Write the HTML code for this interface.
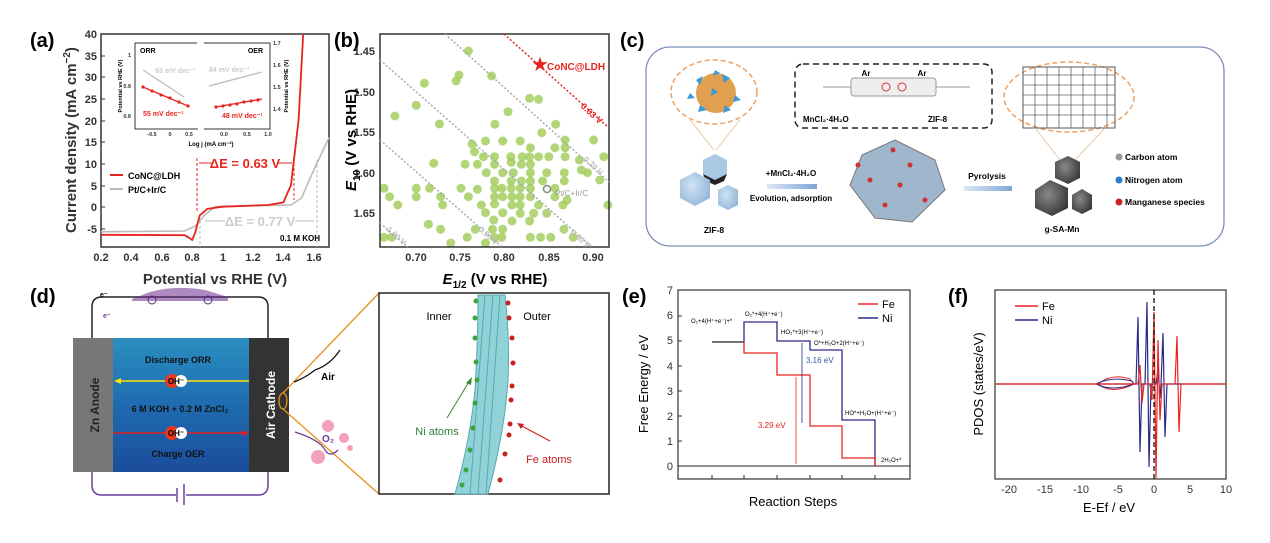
<!DOCTYPE html>
<html><head><meta charset="utf-8"><style>
html,body{margin:0;padding:0;background:#fff;}
svg{display:block;font-family:"Liberation Sans",Arial,sans-serif;}
.b{font-weight:bold;}
</style></head><body>
<svg width="1270" height="543" viewBox="0 0 1270 543" xmlns="http://www.w3.org/2000/svg">
<defs>
<linearGradient id="wat" x1="0" y1="0" x2="0" y2="1"><stop offset="0" stop-color="#2a8fc0"/><stop offset="0.5" stop-color="#1f6bb0"/><stop offset="1" stop-color="#1a4d9c"/></linearGradient>
<linearGradient id="arr" x1="0" y1="0" x2="1" y2="0"><stop offset="0" stop-color="#dde8f5"/><stop offset="1" stop-color="#7fa6d8"/></linearGradient>
<radialGradient id="cry" cx="0.4" cy="0.4" r="0.7"><stop offset="0" stop-color="#cfe3f5"/><stop offset="1" stop-color="#8fb4d6"/></radialGradient>
<radialGradient id="dk" cx="0.4" cy="0.4" r="0.7"><stop offset="0" stop-color="#888"/><stop offset="1" stop-color="#333"/></radialGradient>
</defs>

<!-- ===== (a) ===== -->
<text x="30" y="47" font-size="20" class="b">(a)</text>
<rect x="101" y="34" width="228" height="213" fill="none" stroke="#333" stroke-width="1.5"/>
<g font-size="11" class="b" text-anchor="end" fill="#333">
<text x="97" y="38">40</text><text x="97" y="60">35</text><text x="97" y="81">30</text><text x="97" y="103">25</text><text x="97" y="125">20</text><text x="97" y="146">15</text><text x="97" y="168">10</text><text x="97" y="190">5</text><text x="97" y="211">0</text><text x="97" y="233">-5</text>
</g>
<g stroke="#333" stroke-width="1"><line x1="101" y1="34" x2="105" y2="34"/><line x1="101" y1="56" x2="105" y2="56"/><line x1="101" y1="77" x2="105" y2="77"/><line x1="101" y1="99" x2="105" y2="99"/><line x1="101" y1="121" x2="105" y2="121"/><line x1="101" y1="142" x2="105" y2="142"/><line x1="101" y1="164" x2="105" y2="164"/><line x1="101" y1="186" x2="105" y2="186"/><line x1="101" y1="207" x2="105" y2="207"/><line x1="101" y1="229" x2="105" y2="229"/></g>
<g font-size="11" class="b" text-anchor="middle" fill="#333">
<text x="101" y="261">0.2</text><text x="131" y="261">0.4</text><text x="162" y="261">0.6</text><text x="192" y="261">0.8</text><text x="223" y="261">1</text><text x="253" y="261">1.2</text><text x="283" y="261">1.4</text><text x="314" y="261">1.6</text>
</g>
<text x="215" y="284" font-size="15" class="b" text-anchor="middle" fill="#333">Potential vs RHE (V)</text>
<text transform="translate(76,140) rotate(-90)" font-size="15" class="b" text-anchor="middle" fill="#333">Current density (mA cm<tspan dy="-6" font-size="10">−2</tspan><tspan dy="6">)</tspan></text>
<path d="M101,231.8 L184.6,231 L195.2,226.1 L204.4,215.3 L215,206.7 L253,205.8 L291,205 L301.6,198 L310.8,176.5 L316.8,163.5 L329,137.6" fill="none" stroke="#bbb" stroke-width="1.6"/>
<path d="M101,234.8 L184.6,235.2 L189.2,237.8 L192.2,240 L195.2,232.6 L199.8,215.3 L207.4,208.9 L222.6,206.7 L268,205 L283.4,202.4 L291,185 L298.6,120 L303.2,34" fill="none" stroke="#e8241f" stroke-width="1.8"/>
<line x1="197" y1="158" x2="197" y2="212" stroke="#e8241f" stroke-dasharray="3,2"/>
<line x1="294" y1="158" x2="294" y2="200" stroke="#e8241f" stroke-dasharray="3,2"/>
<line x1="199" y1="163" x2="212" y2="163" stroke="#e8241f"/><line x1="278" y1="163" x2="292" y2="163" stroke="#e8241f"/>
<text x="245" y="168" font-size="13" class="b" fill="#e8241f" text-anchor="middle">ΔE = 0.63 V</text>
<line x1="317" y1="160" x2="317" y2="247" stroke="#bbb" stroke-dasharray="3,2"/>
<line x1="200" y1="221" x2="200" y2="247" stroke="#bbb" stroke-dasharray="3,2"/>
<line x1="205" y1="221" x2="225" y2="221" stroke="#bbb"/><line x1="295" y1="221" x2="314" y2="221" stroke="#bbb"/>
<text x="260" y="226" font-size="13" class="b" fill="#ccc" text-anchor="middle">ΔE = 0.77 V</text>
<line x1="110" y1="175" x2="123" y2="175" stroke="#e8241f" stroke-width="2"/><text x="128" y="179" font-size="9" class="b">CoNC@LDH</text>
<line x1="110" y1="189" x2="123" y2="189" stroke="#bbb" stroke-width="2"/><text x="128" y="193" font-size="9" class="b">Pt/C+Ir/C</text>
<text x="320" y="241" font-size="8" class="b" text-anchor="end">0.1 M KOH</text>
<g stroke="#333" stroke-width="1" fill="none">
<path d="M135,43 L135,129 L198,129 M135,43 L197,43"/>
<path d="M204,43 L270,43 L270,129 L204,129"/>
</g>
<text x="140" y="53" font-size="7" class="b">ORR</text><text x="263" y="53" font-size="7" class="b" text-anchor="end">OER</text>
<g font-size="5.5" class="b" fill="#333"><text x="131" y="57" text-anchor="end">1</text><text x="131" y="88" text-anchor="end">0.9</text><text x="131" y="118" text-anchor="end">0.8</text>
<text x="273" y="45">1.7</text><text x="273" y="67">1.6</text><text x="273" y="89">1.5</text><text x="273" y="111">1.4</text>
<text x="152" y="136" text-anchor="middle">-0.5</text><text x="170" y="136" text-anchor="middle">0</text><text x="189" y="136" text-anchor="middle">0.5</text>
<text x="224" y="136" text-anchor="middle">0.0</text><text x="247" y="136" text-anchor="middle">0.5</text><text x="268" y="136" text-anchor="middle">1.0</text></g>
<text x="211" y="146" font-size="6" class="b" text-anchor="middle">Log j (mA cm⁻²)</text>
<text transform="translate(122,86) rotate(-90)" font-size="5.5" class="b" text-anchor="middle">Potential vs RHE (V)</text>
<text transform="translate(288,86) rotate(-90)" font-size="5.5" class="b" text-anchor="middle">Potential vs RHE (V)</text>
<line x1="143" y1="70" x2="184" y2="97" stroke="#bbb" stroke-width="1.3"/>
<line x1="143" y1="87" x2="188" y2="106" stroke="#e8241f" stroke-width="1.3"/>
<line x1="209" y1="86" x2="262" y2="72" stroke="#bbb" stroke-width="1.3"/>
<line x1="216" y1="107" x2="262" y2="99" stroke="#e8241f" stroke-width="1.3"/>
<g fill="#e8241f"><circle cx="143" cy="87" r="1.6"/><circle cx="152" cy="91" r="1.6"/><circle cx="161" cy="95" r="1.6"/><circle cx="170" cy="98" r="1.6"/><circle cx="179" cy="102" r="1.6"/><circle cx="188" cy="106" r="1.6"/>
<circle cx="216" cy="107" r="1.6"/><circle cx="223" cy="106" r="1.6"/><circle cx="230" cy="105" r="1.6"/><circle cx="237" cy="104" r="1.6"/><circle cx="244" cy="102" r="1.6"/><circle cx="251" cy="101" r="1.6"/><circle cx="258" cy="100" r="1.6"/></g>
<text x="155" y="73" font-size="7" class="b" fill="#ccc">93 mV dec⁻¹</text>
<text x="143" y="116" font-size="7" class="b" fill="#e8241f">55 mV dec⁻¹</text>
<text x="209" y="72" font-size="7" class="b" fill="#ccc">84 mV dec⁻¹</text>
<text x="222" y="118" font-size="7" class="b" fill="#e8241f">48 mV dec⁻¹</text>

<!-- ===== (b) ===== -->
<text x="334" y="47" font-size="20" class="b">(b)</text>
<g fill="#9fcc55" fill-opacity="0.8" id="dots"></g>
<rect x="380" y="34" width="229" height="213" fill="none" stroke="#333" stroke-width="1.5"/>
<g stroke="#aaa" stroke-width="1.5" stroke-dasharray="2,2" fill="none">
<line x1="445" y1="34" x2="609" y2="182"/>
<line x1="380" y1="60" x2="592" y2="247"/>
<line x1="380" y1="140" x2="502" y2="247"/>
<line x1="380" y1="223" x2="408" y2="247"/>
</g>
<line x1="504" y1="34" x2="609" y2="128" stroke="#e8241f" stroke-width="1.5" stroke-dasharray="2,2"/>
<g font-size="11" class="b" text-anchor="end" fill="#333"><text x="375" y="55">1.45</text><text x="375" y="96">1.50</text><text x="375" y="136">1.55</text><text x="375" y="177">1.60</text><text x="375" y="217">1.65</text></g>
<g font-size="11" class="b" text-anchor="middle" fill="#333"><text x="416" y="261">0.70</text><text x="460" y="261">0.75</text><text x="504" y="261">0.80</text><text x="549" y="261">0.85</text><text x="593" y="261">0.90</text></g>
<text x="495" y="284" font-size="15" class="b" text-anchor="middle"><tspan font-style="italic">E</tspan><tspan font-size="10" dy="4">1/2</tspan><tspan dy="-4"> (V vs RHE)</tspan></text>
<text transform="translate(356,140) rotate(-90)" font-size="15" class="b" text-anchor="middle"><tspan font-style="italic">E</tspan><tspan font-size="10" dy="4">10</tspan><tspan dy="-4"> (V vs RHE)</tspan></text>
<text x="540" y="71" font-size="20" fill="#e8241f" text-anchor="middle">★</text>
<text x="547" y="70" font-size="10" class="b" fill="#e8241f">CoNC@LDH</text>
<text transform="translate(580,107) rotate(42)" font-size="9" class="b" fill="#e8241f">0.63 V</text>
<circle cx="547" cy="189" r="3.5" fill="none" stroke="#888" stroke-width="1.5"/>
<text x="555" y="196" font-size="8" fill="#999">Pt/C+Ir/C</text>
<g font-size="8" fill="#bbb" class="b"><text transform="translate(583,160) rotate(42)">0.70 V</text><text transform="translate(570,233) rotate(42)">0.80 V</text><text transform="translate(478,230) rotate(42)">0.90 V</text><text transform="translate(386,230) rotate(42)">1.00 V</text></g>

<!-- ===== (c) ===== -->
<text x="620" y="47" font-size="20" class="b">(c)</text>
<rect x="646" y="47" width="578" height="199" rx="24" fill="none" stroke="#7d8fb8" stroke-width="1.3"/>
<ellipse cx="714" cy="92" rx="43" ry="32" fill="none" stroke="#f0a060" stroke-width="1.5" stroke-dasharray="5,3"/>
<circle cx="716" cy="93" r="20" fill="#e0a050"/>
<g fill="#3a9ad8"><polygon points="696,80 703,76 700,85"/><polygon points="722,74 730,78 724,83"/><polygon points="735,95 741,100 733,102"/><polygon points="700,105 707,110 698,112"/><polygon points="712,88 718,92 711,96"/><polygon points="725,105 731,110 723,113"/><polygon points="690,93 695,98 687,99"/><polygon points="715,70 720,73 713,76"/></g>
<line x1="690" y1="120" x2="714" y2="150" stroke="#e6c8a8"/><line x1="740" y1="120" x2="716" y2="150" stroke="#e6c8a8"/>
<polygon points="703,160 715,154 727,160 727,174 715,180 703,174" fill="#a9c8e4"/>
<polygon points="703,174 715,180 727,174 724,181 715,185 706,181" fill="#222"/>
<polygon points="680,180 695,172 710,180 710,198 695,206 680,198" fill="url(#cry)"/>
<polygon points="718,190 728,185 738,190 738,205 728,210 718,205" fill="url(#cry)"/>
<text x="714" y="233" font-size="8.5" class="b" text-anchor="middle">ZIF-8</text>
<rect x="795" y="64" width="197" height="64" rx="8" fill="none" stroke="#222" stroke-width="1.5" stroke-dasharray="6,4"/>
<line x1="823" y1="87" x2="970" y2="87" stroke="#999"/>
<rect x="851" y="78" width="85" height="18" rx="3" fill="#eee" stroke="#999"/>
<circle cx="886" cy="87" r="4" fill="none" stroke="#d33"/><circle cx="902" cy="87" r="4" fill="none" stroke="#d33"/>
<text x="866" y="76" font-size="8" class="b" text-anchor="middle">Ar</text><text x="922" y="76" font-size="8" class="b" text-anchor="middle">Ar</text>
<text x="803" y="122" font-size="8" class="b">MnCl₂·4H₂O</text><text x="928" y="122" font-size="8" class="b">ZIF-8</text>
<text x="791" y="176" font-size="8" class="b" text-anchor="middle">+MnCl₂·4H₂O</text>
<rect x="767" y="184" width="50" height="5" fill="url(#arr)"/>
<text x="791" y="201" font-size="8" class="b" text-anchor="middle">Evolution, adsorption</text>
<polygon points="895,140 935,160 945,190 912,222 875,218 850,185 862,155" fill="#9fb6cc" stroke="#777"/>
<g fill="#c33"><circle cx="893" cy="150" r="2.5"/><circle cx="910" cy="165" r="2.5"/><circle cx="870" cy="180" r="2.5"/><circle cx="925" cy="200" r="2.5"/><circle cx="885" cy="205" r="2.5"/><circle cx="900" cy="185" r="2.5"/><circle cx="858" cy="165" r="2.5"/></g>
<text x="987" y="179" font-size="8.5" class="b" text-anchor="middle">Pyrolysis</text>
<rect x="964" y="186" width="48" height="5" fill="url(#arr)"/>
<ellipse cx="1069" cy="97" rx="65" ry="35" fill="none" stroke="#f0a060" stroke-width="1.5" stroke-dasharray="5,3"/>
<rect x="1023" y="67" width="92" height="61" fill="none" stroke="#555" stroke-width="1"/>
<g stroke="#666" stroke-width="0.8"><line x1="1023" y1="75" x2="1115" y2="75"/><line x1="1023" y1="85" x2="1115" y2="85"/><line x1="1023" y1="95" x2="1115" y2="95"/><line x1="1023" y1="105" x2="1115" y2="105"/><line x1="1023" y1="115" x2="1115" y2="115"/><line x1="1035" y1="67" x2="1035" y2="128"/><line x1="1047" y1="67" x2="1047" y2="128"/><line x1="1059" y1="67" x2="1059" y2="128"/><line x1="1071" y1="67" x2="1071" y2="128"/><line x1="1083" y1="67" x2="1083" y2="128"/><line x1="1095" y1="67" x2="1095" y2="128"/><line x1="1107" y1="67" x2="1107" y2="128"/></g>
<line x1="1035" y1="128" x2="1060" y2="160" stroke="#e6c8a8"/><line x1="1105" y1="128" x2="1075" y2="160" stroke="#e6c8a8"/>
<polygon points="1055,162 1068,156 1080,162 1080,178 1068,184 1055,178" fill="url(#dk)"/>
<polygon points="1035,190 1050,180 1068,188 1068,208 1052,216 1035,208" fill="url(#dk)"/>
<polygon points="1072,195 1082,189 1092,195 1092,209 1082,214 1072,209" fill="url(#dk)"/>
<text x="1062" y="232" font-size="8.5" class="b" text-anchor="middle">g-SA-Mn</text>
<circle cx="1119" cy="157" r="3.5" fill="#999"/><text x="1125" y="160" font-size="8.5" class="b">Carbon atom</text>
<circle cx="1119" cy="180" r="3.5" fill="#2b7cc8"/><text x="1125" y="183" font-size="8.5" class="b">Nitrogen atom</text>
<circle cx="1119" cy="202" r="3.5" fill="#c22"/><text x="1125" y="205" font-size="8.5" class="b">Manganese species</text>

<!-- ===== (d) ===== -->
<text x="30" y="303" font-size="20" class="b">(d)</text>
<path d="M92,338 L92,307 Q92,297 102,297 L258,297 Q268,297 268,307 L268,338" fill="none" stroke="#222" stroke-width="1.5"/>
<path d="M92,472 L92,485 Q92,495 102,495 L258,495 Q268,495 268,485 L268,472" fill="none" stroke="#6b3fa0" stroke-width="1.5"/>
<rect x="176" y="486" width="10" height="18" fill="#fff"/>
<line x1="177" y1="488" x2="177" y2="502" stroke="#6b3fa0" stroke-width="1.5"/><line x1="184" y1="484" x2="184" y2="505" stroke="#6b3fa0" stroke-width="1.5"/>
<path d="M132,299 L150,292 Q175,285 205,290 L228,297 L228,301 L132,301 Z" fill="#6a2a8a" opacity="0.55"/>
<circle cx="152" cy="300" r="4" fill="none" stroke="#5a2a7a"/><circle cx="208" cy="300" r="4" fill="none" stroke="#5a2a7a"/>
<text x="100" y="297" font-size="7" class="b">e⁻</text><text x="103" y="318" font-size="7" class="b" fill="#7a3aa0">e⁻</text>
<rect x="73" y="338" width="40" height="134" fill="#777"/>
<rect x="113" y="338" width="136" height="134" fill="url(#wat)"/>
<rect x="249" y="338" width="40" height="134" fill="#333"/>
<text transform="translate(99,405) rotate(-90)" font-size="12" class="b" fill="#222" text-anchor="middle">Zn Anode</text>
<text transform="translate(275,405) rotate(-90)" font-size="12" class="b" fill="#fff" text-anchor="middle">Air Cathode</text>
<text x="178" y="363" font-size="9" class="b" fill="#111" text-anchor="middle">Discharge   ORR</text>
<line x1="118" y1="381" x2="249" y2="381" stroke="#ffe400" stroke-width="1.5"/><polygon points="114,381 121,378 121,384" fill="#ffe400"/>
<text x="180" y="412" font-size="9" class="b" fill="#111" text-anchor="middle">6 M KOH + 0.2 M ZnCl₂</text>
<line x1="113" y1="433" x2="244" y2="433" stroke="#e02020" stroke-width="1.5"/><polygon points="249,433 242,430 242,436" fill="#e02020"/>
<text x="178" y="457" font-size="9" class="b" fill="#111" text-anchor="middle">Charge   OER</text>
<circle cx="172" cy="381" r="7" fill="#e83a1e"/><circle cx="181" cy="381" r="6" fill="#fff"/><text x="176" y="384" font-size="8" class="b" text-anchor="middle">OH⁻</text>
<circle cx="172" cy="433" r="7" fill="#e83a1e"/><circle cx="181" cy="433" r="6" fill="#fff"/><text x="176" y="436" font-size="8" class="b" text-anchor="middle">OH⁻</text>
<ellipse cx="283" cy="401" rx="4" ry="8" fill="none" stroke="#e8901a" stroke-width="1.3"/>
<line x1="283" y1="393" x2="379" y2="293" stroke="#e8901a" stroke-width="1.3"/><line x1="283" y1="409" x2="379" y2="494" stroke="#e8901a" stroke-width="1.3"/>
<path d="M340,350 Q330,365 315,370 Q305,378 294,382" fill="none" stroke="#111" stroke-width="1.2"/>
<text x="321" y="380" font-size="10" class="b">Air</text>
<path d="M295,432 Q320,440 325,450 Q330,458 338,450" fill="none" stroke="#6b3fa0" stroke-width="1.3"/>
<text x="322" y="442" font-size="10" class="b" fill="#6b3fa0">O₂</text>
<g fill="#f08aa8" opacity="0.8"><circle cx="328" cy="426" r="6"/><circle cx="344" cy="438" r="5"/><circle cx="318" cy="457" r="7"/><circle cx="350" cy="448" r="3"/></g>
<rect x="379" y="293" width="230" height="201" fill="#fff" stroke="#222" stroke-width="1.5"/>
<path d="M478,295 L505,295 Q510,340 508,380 Q505,430 488,494 L455,494 Q470,440 475,390 Q478,340 478,295 Z" fill="#8fd3d8" stroke="#5aa8b0"/>
<g stroke="#5aa8b0" stroke-width="1"><line x1="485" y1="295" x2="470" y2="494"/><line x1="493" y1="295" x2="478" y2="494"/><line x1="500" y1="295" x2="486" y2="494"/></g>
<g fill="#3aa63a"><circle cx="476" cy="301" r="2.5"/><circle cx="475" cy="318" r="2.5"/><circle cx="475" cy="338" r="2.5"/><circle cx="476" cy="362" r="2.5"/><circle cx="477" cy="380" r="2.5"/><circle cx="475" cy="403" r="2.5"/><circle cx="473" cy="428" r="2.5"/><circle cx="470" cy="450" r="2.5"/><circle cx="466" cy="470" r="2.5"/><circle cx="462" cy="485" r="2.5"/></g>
<g fill="#c82020"><circle cx="508" cy="303" r="2.5"/><circle cx="509" cy="318" r="2.5"/><circle cx="512" cy="338" r="2.5"/><circle cx="513" cy="363" r="2.5"/><circle cx="512" cy="386" r="2.5"/><circle cx="511" cy="400" r="2.5"/><circle cx="510" cy="424" r="2.5"/><circle cx="509" cy="435" r="2.5"/><circle cx="505" cy="454" r="2.5"/><circle cx="500" cy="480" r="2.5"/></g>
<text x="439" y="320" font-size="11" text-anchor="middle">Inner</text>
<text x="537" y="320" font-size="11" text-anchor="middle">Outer</text>
<line x1="447" y1="418" x2="470" y2="380" stroke="#3a8a3a"/><polygon points="472,377 466,383 471,385" fill="#3a8a3a"/>
<text x="437" y="435" font-size="11" fill="#2e7d32" text-anchor="middle">Ni atoms</text>
<line x1="550" y1="441" x2="520" y2="425" stroke="#c82020"/><polygon points="517,423 524,424 521,429" fill="#c82020"/>
<text x="549" y="463" font-size="11" fill="#c82020" text-anchor="middle">Fe atoms</text>

<!-- ===== (e) ===== -->
<text x="622" y="303" font-size="20" class="b">(e)</text>
<rect x="678" y="290" width="232" height="189" fill="none" stroke="#333" stroke-width="1.2"/>
<g font-size="11" text-anchor="end" fill="#333"><text x="673" y="294">7</text><text x="673" y="319">6</text><text x="673" y="344">5</text><text x="673" y="370">4</text><text x="673" y="395">3</text><text x="673" y="420">2</text><text x="673" y="445">1</text><text x="673" y="470">0</text></g>
<g stroke="#333"><line x1="678" y1="316" x2="682" y2="316"/><line x1="678" y1="341" x2="682" y2="341"/><line x1="678" y1="366" x2="682" y2="366"/><line x1="678" y1="391" x2="682" y2="391"/><line x1="678" y1="416" x2="682" y2="416"/><line x1="678" y1="441" x2="682" y2="441"/>
<line x1="712" y1="479" x2="712" y2="475"/><line x1="744" y1="479" x2="744" y2="475"/><line x1="777" y1="479" x2="777" y2="475"/><line x1="810" y1="479" x2="810" y2="475"/><line x1="842" y1="479" x2="842" y2="475"/><line x1="875" y1="479" x2="875" y2="475"/></g>
<line x1="678" y1="466" x2="910" y2="466" stroke="#222" stroke-width="1"/>
<text transform="translate(648,384) rotate(-90)" font-size="13" text-anchor="middle">Free Energy / eV</text>
<text x="793" y="506" font-size="13" text-anchor="middle">Reaction Steps</text>
<line x1="712" y1="342" x2="744" y2="342" stroke="#222" stroke-width="1.2"/>
<path d="M744,342 L744,322 L777,322 L777,341 L810,341 L810,350 L842,350 L842,420 L875,420 L875,466" fill="none" stroke="#2a2a8a" stroke-width="1.3"/>
<path d="M744,342 L744,353 L777,353 L777,375 L810,375 L810,426 L842,426 L842,458 L875,458 L875,466" fill="none" stroke="#e8241f" stroke-width="1.3"/>
<line x1="802" y1="343" x2="802" y2="423" stroke="#2a2a8a" stroke-width="0.8"/>
<line x1="796" y1="377" x2="796" y2="464" stroke="#e8241f" stroke-width="0.8"/>
<g font-size="6"><text x="691" y="323">O₂+4(H⁺+e⁻)+*</text><text x="745" y="316">O₂*+4(H⁺+e⁻)</text><text x="781" y="334">HO₂*+3(H⁺+e⁻)</text><text x="814" y="345">O*+H₂O+2(H⁺+e⁻)</text><text x="845" y="415">HO*+H₂O+(H⁺+e⁻)</text><text x="881" y="462">2H₂O+*</text></g>
<text x="806" y="363" font-size="8" fill="#3a5aa0">3.16 eV</text>
<text x="758" y="428" font-size="8" fill="#e8241f">3.29 eV</text>
<line x1="858" y1="304" x2="878" y2="304" stroke="#e8241f" stroke-width="1.5"/><text x="882" y="308" font-size="11">Fe</text>
<line x1="858" y1="318" x2="878" y2="318" stroke="#2a2a8a" stroke-width="1.5"/><text x="882" y="322" font-size="11">Ni</text>

<!-- ===== (f) ===== -->
<text x="948" y="303" font-size="20" class="b">(f)</text>
<rect x="995" y="290" width="231" height="189" fill="none" stroke="#333" stroke-width="1.2"/>
<g font-size="11" text-anchor="middle" fill="#333"><text x="1009" y="493">-20</text><text x="1045" y="493">-15</text><text x="1081" y="493">-10</text><text x="1118" y="493">-5</text><text x="1154" y="493">0</text><text x="1190" y="493">5</text><text x="1226" y="493">10</text></g>
<text x="1109" y="512" font-size="13" text-anchor="middle">E-Ef / eV</text>
<text transform="translate(983,384) rotate(-90)" font-size="13" text-anchor="middle">PDOS (states/eV)</text>
<path d="M1098,384 Q1112,373 1130,379 L1134,384 Q1112,395 1098,384 Z" fill="none" stroke="#e8241f" stroke-width="1"/>
<path d="M1096,384 Q1112,376 1132,381 L1134,384 Q1112,392 1096,384 Z" fill="none" stroke="#2a2a8a" stroke-width="1"/>
<path d="M995,384 L1134,384 L1136,384 L1138,317 L1140,452 L1142,384 L1145,384 L1147,302 L1149,467 L1151,384 L1156,384 L1158,370 L1160,398 L1161,384 L1163,333 L1165,437 L1167,384 L1226,384" fill="none" stroke="#2a2a8a" stroke-width="1.2"/>
<path d="M995,384 L1138,384 L1140,365 L1142,403 L1144,384 L1150,384 L1152,400 L1154,312 L1156,478 L1158,340 L1160,420 L1162,384 L1175,384 L1177,336 L1179,432 L1181,384 L1226,384" fill="none" stroke="#e8241f" stroke-width="1.2"/>
<line x1="1154" y1="290" x2="1154" y2="479" stroke="#111" stroke-width="1.3" stroke-dasharray="5,3"/>
<line x1="1015" y1="306" x2="1038" y2="306" stroke="#e8241f" stroke-width="1.5"/><text x="1042" y="310" font-size="11">Fe</text>
<line x1="1015" y1="320" x2="1038" y2="320" stroke="#2a2a8a" stroke-width="1.5"/><text x="1042" y="324" font-size="11">Ni</text>
</svg>
<script>
var p=[[1148,153],[1125,225],[1118,243],[1040,250],[1205,228],[1020,316],[968,348],[1077,372],[1298,295],[1320,298],[1245,335],[1213,373],[1157,432],[1190,423],[1232,423],[1275,423],[1300,443],[1328,398],[1362,373],[1385,420],[1360,443],[1385,443],[1455,420],[1163,455],[1185,470],[1212,470],[1252,470],[1280,470],[1298,470],[1320,470],[1345,470],[1385,470],[1063,490],[1140,493],[1170,493],[1212,493],[1253,487],[1278,493],[1300,493],[1420,480],[1480,470],[1192,518],[1232,518],[1258,518],[1300,518],[1340,518],[1383,518],[1425,510],[1440,518],[1212,543],[1253,543],[1278,543],[1300,543],[1330,543],[1383,543],[1470,540],[935,565],[1020,565],[1053,565],[1130,565],[1170,568],[1212,565],[1230,565],[1253,565],[1275,565],[1300,565],[1360,565],[955,590],[1020,590],[1080,590],[1148,590],[1212,590],[1232,590],[1255,590],[1275,590],[1300,590],[1360,590],[1390,600],[975,615],[1085,615],[1180,615],[1212,612],[1255,615],[1275,615],[1320,615],[1380,615],[1490,615],[1190,638],[1232,638],[1275,640],[1308,640],[1340,640],[1210,660],[1255,663],[1298,663],[1050,673],[1165,688],[1207,688],[1232,688],[1382,688],[1080,688],[1145,712],[1212,712],[1300,712],[1325,712],[1350,712],[1405,712],[1230,712],[930,712],[960,712],[1105,737],[1190,733]];
var g=document.getElementById('dots'),s='';
p.forEach(function(q){var x=q[0]*0.408,y=q[1]/3;if(x<384)x=384;if(y>243)y=243;s+='<circle cx="'+x.toFixed(1)+'" cy="'+y.toFixed(1)+'" r="4.5"/>';});
g.innerHTML=s;
</script>
</body></html>
